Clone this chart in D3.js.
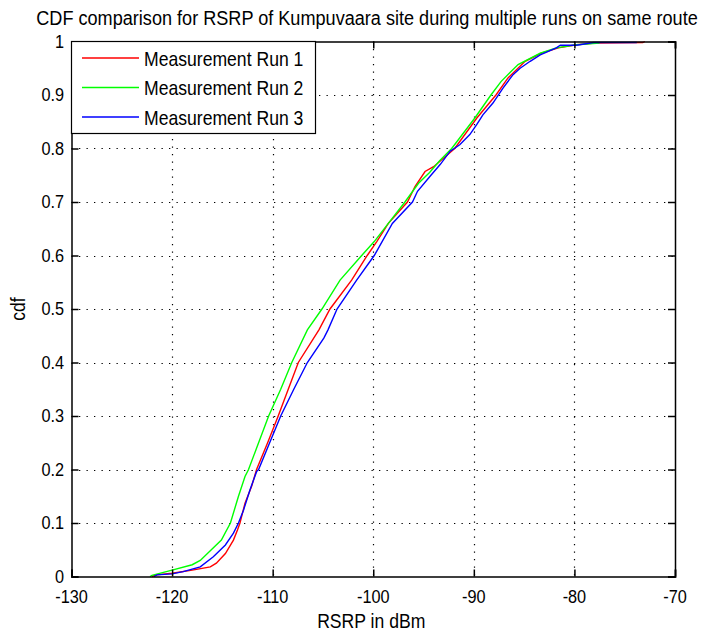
<!DOCTYPE html>
<html>
<head>
<meta charset="utf-8">
<script src="https://cdn.jsdelivr.net/npm/d3@7"></script>
<style>
  html, body { margin: 0; padding: 0; background: #fff; }
  svg { display: block; }
  text { font-family: "Liberation Sans", Arial, sans-serif; fill: #000; }
</style>
</head>
<body>
<svg id="chart" width="704" height="635"></svg>
<script>
// ---------------- data ----------------
const titleText = "CDF comparison for RSRP of Kumpuvaara site during multiple runs on same route";
const xLabelText = "RSRP in dBm";
const yLabelText = "cdf";
const seriesNames = ["Measurement Run 1", "Measurement Run 2", "Measurement Run 3"];
const seriesColors = ["#ff0000", "#00ff00", "#0000ff"];

const xTicks = [-130, -120, -110, -100, -90, -80, -70];
const yTicks = [0, 0.1, 0.2, 0.3, 0.4, 0.5, 0.6, 0.7, 0.8, 0.9, 1];
const yTickLabels = ["0", "0.1", "0.2", "0.3", "0.4", "0.5", "0.6", "0.7", "0.8", "0.9", "1"];

// [RSRP dBm, cdf]
const run1 = [
  [-122.0, 0], [-121.6, 0.003], [-120, 0.006], [-118, 0.012], [-116.2, 0.018], [-115.6, 0.025],
  [-114.7, 0.043], [-113.9, 0.068], [-113.5, 0.087], [-113.25, 0.1], [-112.75, 0.137], [-112.1, 0.168],
  [-111.6, 0.2], [-110.5, 0.25], [-109.45, 0.3], [-108.45, 0.35], [-107.45, 0.4], [-105.4, 0.461],
  [-104.3, 0.5], [-102.15, 0.554], [-100.6, 0.6], [-99.65, 0.626], [-98.5, 0.66], [-96.6, 0.7],
  [-95.85, 0.729], [-94.85, 0.757], [-94.0, 0.766], [-91.9, 0.8], [-89.7, 0.857], [-87.8, 0.9],
  [-86.6, 0.932], [-84.9, 0.963], [-83.3, 0.978], [-81.6, 0.988], [-79.8, 0.994], [-78, 0.997],
  [-73.2, 0.998], [-73.0, 1.0]
];
const run2 = [
  [-122.2, 0], [-122, 0.002], [-120, 0.012], [-118, 0.022], [-117.2, 0.03], [-116.1, 0.05],
  [-115.1, 0.068], [-114.2, 0.1], [-113.4, 0.15], [-112.75, 0.187], [-112.4, 0.2], [-111.4, 0.25],
  [-110.4, 0.3], [-109.2, 0.35], [-108.1, 0.4], [-106.55, 0.461], [-105.1, 0.5], [-103.3, 0.554],
  [-101.15, 0.6], [-99.9, 0.626], [-98.5, 0.66], [-96.85, 0.7], [-95.5, 0.735], [-94.4, 0.755],
  [-93.4, 0.777], [-92.2, 0.8], [-89.9, 0.857], [-88.3, 0.9], [-87.3, 0.925], [-85.6, 0.957],
  [-83.4, 0.978], [-81.8, 0.988], [-79.8, 0.994], [-77.5, 0.997]
];
const run3 = [
  [-121.8, 0], [-121.5, 0.003], [-120, 0.005], [-118.9, 0.009], [-117.2, 0.018], [-115.9, 0.037],
  [-114.7, 0.059], [-113.9, 0.081], [-113.4, 0.1], [-112.9, 0.124], [-112.25, 0.162], [-111.6, 0.196],
  [-111.4, 0.2], [-110.3, 0.25], [-109.2, 0.3], [-107.9, 0.35], [-106.55, 0.4], [-104.9, 0.446],
  [-104.5, 0.461], [-103.6, 0.5], [-101.65, 0.554], [-99.9, 0.6], [-98.1, 0.66], [-96.1, 0.7],
  [-95.6, 0.72], [-94.35, 0.748], [-93.35, 0.77], [-92.35, 0.795], [-91.4, 0.807], [-90.4, 0.826],
  [-89.7, 0.845], [-89.1, 0.863], [-88.1, 0.885], [-87.1, 0.913], [-86.1, 0.938], [-85.4, 0.95],
  [-84.4, 0.963], [-83.4, 0.975], [-81.8, 0.988], [-81.4, 0.993], [-79.8, 0.993], [-78.1, 0.998],
  [-73.8, 0.998]
];
const allRuns = [run1, run2, run3];

// ---------------- layout ----------------
const plot = { left: 71.5, right: 675, top: 41.5, bottom: 576.5 };
const SX = 0.88; // horizontal glyph squeeze (narrow MATLAB-like font)

const svg = d3.select("#chart");
const x = d3.scaleLinear().domain([-130, -70]).range([plot.left, plot.right]);
const y = d3.scaleLinear().domain([0, 1]).range([plot.bottom, plot.top]);

svg.append("rect").attr("x", 0).attr("y", 0).attr("width", 704).attr("height", 635).attr("fill", "#fff");

// grid
const grid = svg.append("g");
grid.selectAll("line.gx").data(xTicks.slice(1, -1)).join("line")
  .attr("x1", d => Math.round(x(d)) + 0.5).attr("x2", d => Math.round(x(d)) + 0.5)
  .attr("y1", plot.top).attr("y2", plot.bottom)
  .attr("stroke", "#000").attr("stroke-width", 1.2).attr("stroke-dasharray", "1.3,6.2");
grid.selectAll("line.gy").data(yTicks.slice(1, -1)).join("line")
  .attr("y1", d => Math.round(y(d)) + 0.5).attr("y2", d => Math.round(y(d)) + 0.5)
  .attr("x1", plot.left).attr("x2", plot.right)
  .attr("stroke", "#000").attr("stroke-width", 1.2).attr("stroke-dasharray", "1.3,6.2");

// curves
const line = d3.line().x(d => x(d[0])).y(d => y(d[1]));
svg.append("g").selectAll("path").data(allRuns).join("path")
  .attr("d", d => line(d))
  .attr("fill", "none")
  .attr("stroke", (d, i) => seriesColors[i])
  .attr("stroke-width", 1.4)
  .attr("stroke-linejoin", "miter");

// axes box + inward ticks
const tickLen = 7;
const axes = svg.append("g");
const xAxisB = d3.axisBottom(x).tickValues(xTicks).tickSize(-tickLen).tickFormat("");
const xAxisT = d3.axisTop(x).tickValues(xTicks).tickSize(-tickLen).tickFormat("");
const yAxisL = d3.axisLeft(y).tickValues(yTicks).tickSize(-tickLen).tickFormat("");
const yAxisR = d3.axisRight(y).tickValues(yTicks).tickSize(-tickLen).tickFormat("");
axes.append("g").attr("transform", `translate(0,${plot.bottom})`).call(xAxisB);
axes.append("g").attr("transform", `translate(0,${plot.top})`).call(xAxisT);
axes.append("g").attr("transform", `translate(${plot.left},0)`).call(yAxisL);
axes.append("g").attr("transform", `translate(${plot.right},0)`).call(yAxisR);
axes.selectAll(".domain").attr("stroke", "#000").attr("stroke-width", 1.5);
axes.selectAll(".tick line").attr("stroke", "#000").attr("stroke-width", 1.5);

function sqText(parent, tx, ty, str, size, anchor, rot, sx) {
  const g = parent.append("g").attr("transform", `translate(${tx},${ty})` + (rot ? ` rotate(${rot})` : ""));
  return g.append("text").attr("transform", `scale(${sx || SX},1)`)
    .attr("text-anchor", anchor).attr("font-size", size).text(str);
}

// tick labels
const labels = svg.append("g");
xTicks.forEach(v => sqText(labels, x(v), 603, String(v), 18.5, "middle"));
yTicks.forEach((v, i) => sqText(labels, 64, y(v) + 6.3, yTickLabels[i], 18.5, "end"));

// axis titles
sqText(svg, (plot.left + plot.right) / 2 - 2, 628, xLabelText, 20, "middle");
sqText(svg, 25, (plot.top + plot.bottom) / 2, yLabelText, 20, "middle", -90);

// title: squeezed so it spans the same width as the original
const titleEl = sqText(svg, 367, 25, titleText, 20, "middle", 0, 1);
const natW = titleEl.node().getComputedTextLength();
titleEl.attr("transform", `scale(${662 / natW},1)`);

// legend
const leg = svg.append("g");
leg.append("rect").attr("x", plot.left).attr("y", plot.top).attr("width", 244).attr("height", 92)
  .attr("fill", "#fff").attr("stroke", "#000").attr("stroke-width", 1.2);
seriesNames.forEach((name, i) => {
  const ly = 58 + i * 29.5;
  leg.append("line").attr("x1", 82).attr("x2", 139).attr("y1", ly).attr("y2", ly)
    .attr("stroke", seriesColors[i]).attr("stroke-width", 1.4);
  sqText(leg, 144, ly + 7.5, name, 20, "start");
});
</script>
</body>
</html>
